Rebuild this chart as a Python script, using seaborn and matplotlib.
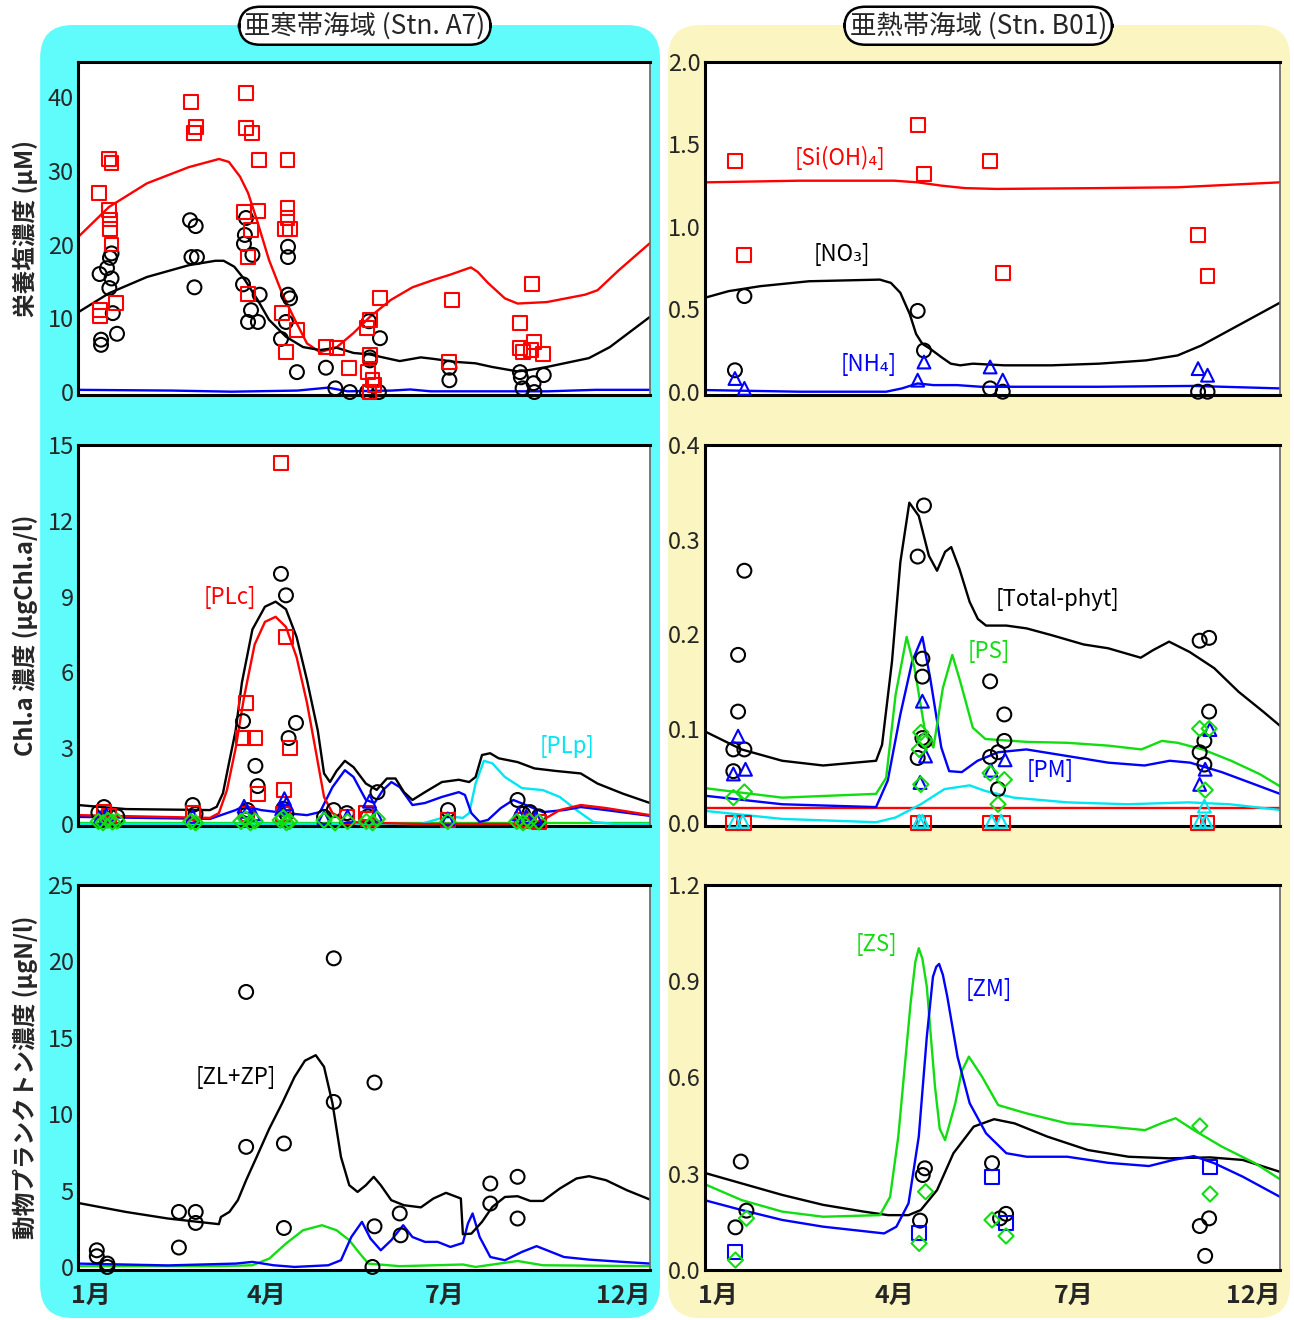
import matplotlib.pyplot as plt
import seaborn as sns
from matplotlib.patches import FancyBboxPatch

# x axis: day of year (0-365)
month_ticks = [8, 120, 234, 348]
month_labels = ['1月', '4月', '7月', '12月']

# ---------------- Stn. A7 : nutrients (uM) ----------------
a7_si_obs_day = [13.4, 19.5, 21.4, 19.5, 20.4, 20.4, 21.4, 14, 14, 24.1, 71.9, 75.1, 73.8,
                 107.2, 107.2, 111.3, 115.5, 133.7, 105.9, 114.6, 110.4, 108.5, 108.5, 133.7,
                 133.7, 132.1, 135.3, 130.2, 139.5, 132.7, 158.2, 165.1, 172.9, 192.7, 186.3,
                 184.4, 186.3, 185, 187.9, 189.2, 186, 238.6, 237, 289.7, 282, 282, 283.9,
                 290.7, 296.7, 289]
a7_si_obs_val = [27.0, 31.6, 31.0, 24.7, 23.4, 22.1, 20.0, 11.1, 10.3, 12.1, 39.3, 35.9, 35.1,
                 40.5, 35.8, 35.1, 31.5, 31.5, 24.4, 24.5, 22.0, 18.3, 13.3, 24.9,
                 23.6, 22.1, 22.1, 10.7, 8.4, 5.4, 6.1, 6.0, 3.3, 12.8, 9.8,
                 8.7, 5.0, 2.7, 1.6, 0.9, 0.0, 12.5, 4.1, 14.6, 9.4, 6.0, 5.4,
                 6.8, 5.2, 5.7]
a7_no3_obs_day = [13.8, 21.4, 20.4, 18.5, 21.4, 20, 22.2, 14.7, 14.7, 24.9, 71.5, 75.1, 72.4,
                  75.9, 74.3, 107.2, 106.5, 105.9, 111.3, 105.3, 115.9, 110.4, 108.5, 114.8,
                  134, 134, 134, 135.3, 132.7, 129.5, 139.7, 158.2, 164.2, 173.5, 185.7, 192.7,
                  186.3, 186.3, 184.4, 192, 237, 237, 282, 282.6, 283.7, 290.7, 291.2, 297.2]
a7_no3_obs_val = [16.0, 18.8, 18.2, 16.8, 15.4, 14.1, 10.7, 7.1, 6.4, 7.9, 23.3, 22.5, 18.3,
                  18.3, 14.2, 23.6, 21.3, 20.1, 18.6, 14.6, 13.2, 11.1, 9.5, 9.5,
                  19.7, 18.3, 13.2, 12.7, 9.5, 7.2, 2.7, 3.3, 0.5, 0.0, 9.6, 7.3,
                  4.7, 4.3, 0.0, 0.0, 3.3, 1.6, 2.7, 2.0, 0.5, 1.2, 0.0, 2.3]
a7_si_day = [0, 19.8, 44, 70.8, 90, 96.3, 103.4, 108.5, 114.2, 121.9, 130.2, 138.4, 146.1,
             154.4, 165.2, 175.8, 186.3, 199.7, 213.4, 226.8, 237.3, 250.7, 255, 261.6,
             272.4, 280.5, 299.2, 323.5, 331.5, 345, 365]
a7_si_val = [21.0, 25.1, 28.3, 30.5, 31.6, 31.2, 29.2, 27.0, 23.3, 17.9, 13.4, 9.8, 6.6,
             5.4, 6.1, 8.0, 10.2, 12.5, 14.2, 15.2, 15.9, 16.9, 16.3, 14.8,
             12.7, 12.0, 12.2, 13.2, 13.8, 16.5, 20.2]
a7_no3_day = [0, 19.8, 44, 70.8, 87.7, 92.9, 99.7, 106.5, 114.6, 121.9, 132.7, 143.6, 154.4,
              165.2, 175.8, 186.3, 194.6, 205.3, 218.7, 226.8, 240.2, 253.6, 264.3, 280.5,
              288.4, 299.2, 326, 339.4, 365]
a7_no3_val = [10.8, 13.4, 15.6, 17.2, 17.8, 17.8, 17.0, 15.2, 12.5, 9.8, 7.5, 6.1, 5.7,
              6.0, 5.3, 5.1, 4.7, 4.2, 4.7, 4.5, 4.1, 3.9, 3.4, 2.8,
              3.0, 3.4, 4.6, 6.1, 10.2]
a7_nh4_day = [0, 60, 98, 140, 159.6, 172, 200, 212, 225, 300, 330, 365]
a7_nh4_val = [0.3, 0.2, 0.05, 0.2, 0.6, 0.1, 0.2, 0.35, 0.1, 0.1, 0.3, 0.3]

# ---------------- Stn. B01 : nutrients (uM) ----------------
b01_obs_day = [19, 25, 135, 139, 181, 189, 313, 319]
b01_si_obs = [1.40, 0.83, 1.62, 1.32, 1.40, 0.72, 0.95, 0.70]
b01_no3_obs = [0.13, 0.58, 0.49, 0.25, 0.02, 0.0, 0.0, 0.0]
b01_nh4_obs = [0.08, 0.02, 0.07, 0.18, 0.15, 0.07, 0.14, 0.10]
b01_si_day = [0, 60, 120, 135, 150, 165, 185, 250, 300, 365]
b01_si_val = [1.27, 1.28, 1.28, 1.27, 1.25, 1.235, 1.23, 1.235, 1.24, 1.27]
b01_no3_day = [0, 15, 35, 66, 111, 118, 124, 130, 134, 138, 143, 150, 156, 162, 170, 190,
               220, 250, 280, 300, 315, 340, 365]
b01_no3_val = [0.57, 0.61, 0.64, 0.67, 0.68, 0.66, 0.60, 0.47, 0.35, 0.29, 0.26, 0.21, 0.17,
               0.16, 0.17, 0.16, 0.16, 0.17, 0.19, 0.22, 0.28, 0.41, 0.54]
b01_nh4_day = [0, 60, 115, 125, 135, 145, 160, 175, 250, 310, 365]
b01_nh4_val = [0.01, 0.0, 0.0, 0.02, 0.05, 0.04, 0.04, 0.03, 0.03, 0.035, 0.02]

# ---------------- Stn. A7 : Chl.a (ug/l) ----------------
a7_chl_obs_day = [16.6, 13, 20, 25, 73.2, 75, 105.3, 113.2, 114.6, 108.1, 107, 129.5, 132.7,
                  139.1, 134.4, 131, 133, 157, 163.2, 171.6, 191.1, 185, 236.1, 280.5, 288.4,
                  284, 294]
a7_chl_obs_val = [0.67, 0.45, 0.35, 0.3, 0.75, 0.4, 4.07, 2.3, 1.5, 0.55, 0.35, 9.9, 9.05,
                  4.0, 3.4, 0.6, 0.4, 0.28, 0.55, 0.43, 1.26, 0.3, 0.55, 0.95, 0.47,
                  0.4, 0.3]
a7_plc_obs_day = [129.5, 132.7, 107.2, 105.3, 113.2, 135, 114.6, 131.7, 16.6, 20, 73.2, 183.7,
                  171.6, 185, 236.1, 283.3, 294, 288, 108, 131]
a7_plc_obs_val = [14.3, 7.4, 4.8, 3.4, 3.4, 3.0, 1.2, 1.35, 0.47, 0.3, 0.43, 0.43,
                  0.28, 0.2, 0.16, 0.15, 0.08, 0.1, 0.4, 0.4]
a7_pm_obs_day = [14, 18, 73.2, 106, 108, 112, 131.7, 130, 133, 157, 172, 186, 190, 236, 281,
                 286, 292]
a7_pm_obs_val = [0.25, 0.35, 0.3, 0.7, 0.5, 0.4, 1.0, 0.6, 0.8, 0.25, 0.3, 0.9, 0.35, 0.2, 0.4,
                 0.3, 0.25]
a7_ps_obs_day = [13, 16, 19, 22, 25, 72, 75, 104, 107, 110, 113, 129, 131, 133, 135, 157, 164,
                 172, 184, 188, 191, 236, 280, 284, 288, 294]
a7_ps_obs_val = [0.1, 0.05, 0.15, 0.08, 0.12, 0.1, 0.05, 0.1, 0.2, 0.05, 0.12, 0.15, 0.25,
                 0.05, 0.1, 0.15, 0.05, 0.1, 0.1, 0.05, 0.2, 0.1, 0.1, 0.05, 0.12, 0.08]
a7_tot_day = [0, 30.6, 84.2, 88.5, 92.5, 96.3, 100.6, 104.6, 111.3, 119.3, 126.1, 132.7, 139.5,
              146.1, 153, 157, 160.8, 165, 170.3, 175.8, 183.7, 190.6, 197.1, 202.6, 208,
              213.4, 221.4, 232.2, 243, 249.6, 253.7, 257.8, 263, 268.4, 280.5, 291.2, 304.7,
              320.8, 331.5, 347.7, 365]
a7_tot_val = [0.75, 0.59, 0.55, 0.68, 1.22, 2.4, 3.7, 5.6, 7.7, 8.6, 8.8, 8.5, 7.4,
              5.7, 3.7, 2.0, 1.66, 2.1, 2.5, 2.25, 1.6, 1.35, 1.8, 1.8, 1.26,
              0.95, 1.26, 1.66, 1.75, 1.66, 1.86, 2.73, 2.8, 2.6, 2.45, 2.2, 2.1,
              2.0, 1.6, 1.2, 0.83]
a7_plc_day = [0, 84.2, 89.9, 95, 100.6, 105.9, 112.7, 119.3, 126.1, 132.7, 139.5, 146.1, 151.7,
              157, 162.4, 173.1, 191.9, 218.8, 288.4, 296.7, 307.4, 320.8, 336.9, 365]
a7_plc_val = [0.35, 0.24, 0.43, 1.33, 3.0, 5.0, 7.1, 8.0, 8.2, 7.8, 6.6, 4.8, 2.9,
              1.07, 0.43, 0.08, 0.04, 0.0, 0.0, 0.16, 0.55, 0.75, 0.63, 0.35]
a7_pm_day = [0, 84.2, 100.6, 105.9, 116.8, 132.7, 146.1, 154.4, 162.4, 170.3, 175.8, 183.7,
             189.2, 194.6, 200, 205.3, 213.4, 221.4, 232.2, 243, 246.9, 251, 256.3, 261.6,
             269.8, 277.8, 285.8, 296.7, 310.1, 320.8, 336.9, 365]
a7_pm_val = [0.28, 0.2, 0.55, 0.71, 0.55, 0.43, 0.35, 0.47, 1.46, 2.13, 1.86, 0.95,
             0.83, 1.34, 1.66, 1.46, 0.75, 0.83, 1.07, 1.26, 1.15, 0.43, 0.08, 0.16,
             0.63, 0.95, 0.75, 0.47, 0.55, 0.67, 0.55, 0.32]
a7_plp_day = [0, 218.8, 232.2, 240.2, 245.6, 249.6, 253.7, 259, 264.4, 272.4, 283.3, 296.7,
              307.4, 318.1, 328.8, 342.3, 365]
a7_plp_val = [0.0, 0.0, 0.24, 0.28, 0.24, 0.43, 1.6, 2.5, 2.4, 1.86, 1.42, 1.34,
              1.07, 0.55, 0.08, 0.0, 0.0]
a7_ps_day = [0, 365]
a7_ps_val = [0.03, 0.03]

# ---------------- Stn. B01 : Chl.a (ug/l) ----------------
b01_chl_obs_day = [25, 21, 21, 18, 25, 18, 139, 135, 138, 138, 138, 139.5, 135, 181, 190, 190,
                   181, 186, 186, 314, 320, 320, 317, 314, 317]
b01_chl_obs_val = [0.267, 0.178, 0.118, 0.078, 0.078, 0.055, 0.336, 0.282, 0.174, 0.155, 0.09,
                   0.087, 0.069, 0.15, 0.115, 0.087, 0.07, 0.075, 0.036, 0.193, 0.196, 0.118,
                   0.087, 0.075, 0.062]
b01_pm_obs_day = [21, 18, 25.7, 138, 140, 136.5, 181.5, 190.5, 314, 317.5, 320.5]
b01_pm_obs_val = [0.092, 0.052, 0.057, 0.129, 0.071, 0.043, 0.056, 0.067, 0.041, 0.057, 0.099]
b01_ps_obs_day = [18, 25, 137, 137, 139.5, 136, 181, 190, 186, 314, 320, 317.5]
b01_ps_obs_val = [0.027, 0.033, 0.041, 0.096, 0.088, 0.078, 0.053, 0.046, 0.02, 0.1, 0.1, 0.035]
b01_plc_obs_day = [18, 25, 135, 139, 181, 189, 313, 319]
b01_plc_obs_val = [0.0, 0.0, 0.0, 0.0, 0.0, 0.0, 0.0, 0.0]
b01_plp_obs_day = [19, 24, 136, 138, 182, 188, 314, 318, 317]
b01_plp_obs_val = [0.002, 0.002, 0.002, 0.002, 0.002, 0.002, 0.002, 0.002, 0.018]
b01_tot_day = [0, 23.2, 49, 75, 108.6, 112.4, 118.7, 124, 129.7, 135.7, 142.1, 147.3, 152.4,
               156.3, 161.5, 168, 173.2, 178.4, 191.3, 204.2, 219.7, 240.4, 255.9, 276.6,
               284.4, 294.6, 307.7, 323.2, 338.7, 354.3, 365]
b01_tot_val = [0.097, 0.078, 0.066, 0.061, 0.066, 0.083, 0.171, 0.276, 0.339, 0.325, 0.283,
               0.267, 0.287, 0.292, 0.269, 0.234, 0.216, 0.209, 0.209, 0.206, 0.199, 0.189,
               0.185, 0.175, 0.183, 0.192, 0.181, 0.164, 0.139, 0.118, 0.103]
b01_ps_day = [0, 49, 108.6, 115, 121, 128, 133, 140, 145, 151, 157, 162, 170, 178, 204, 230,
              256, 277, 290, 300, 316, 334, 352, 365]
b01_ps_val = [0.037, 0.027, 0.031, 0.048, 0.136, 0.197, 0.164, 0.094, 0.08, 0.143, 0.178,
              0.15, 0.101, 0.089, 0.086, 0.085, 0.082, 0.078, 0.087, 0.085, 0.078, 0.066,
              0.052, 0.039]
b01_pm_day = [0, 49, 108.6, 116, 124, 131.5, 138, 143, 150, 155, 163, 173, 186, 204, 230, 256,
              279, 295, 308, 328, 349, 365]
b01_pm_val = [0.029, 0.02, 0.017, 0.045, 0.115, 0.171, 0.197, 0.153, 0.08, 0.055, 0.054,
              0.066, 0.075, 0.078, 0.071, 0.064, 0.061, 0.066, 0.064, 0.054, 0.041, 0.031]
b01_plp_day = [0, 49, 108.6, 121, 137, 152, 168, 178, 196, 230, 268, 307, 333, 365]
b01_plp_val = [0.013, 0.0045, 0.001, 0.006, 0.02, 0.036, 0.04, 0.034, 0.027, 0.022, 0.02,
               0.022, 0.02, 0.014]
b01_plc_day = [0, 365]
b01_plc_val = [0.0157, 0.0157]

# ---------------- Stn. A7 : zooplankton (ugN/l) ----------------
a7_zoo_obs_day = [12, 12, 18.7, 18.7, 64.4, 64.4, 75.1, 75.1, 107.3, 107.3, 131.4, 131.4, 163.2,
                  163.2, 189.2, 189.2, 187.9, 205.3, 205.9, 263.1, 263.1, 280.5, 280.5]
a7_zoo_obs_val = [1.09, 0.7, 0.22, 0.0, 3.6, 1.27, 3.6, 2.88, 18.0, 7.86, 8.08, 2.55, 20.2,
                  10.8, 12.07, 2.66, 0.0, 3.5, 2.07, 5.46, 4.15, 5.9, 3.17]
a7_zl_day = [0, 30.6, 57.4, 89.9, 91.2, 96.6, 102, 107.3, 114, 122.1, 130.2, 138.2, 144.8,
             151.7, 157, 162.4, 167.8, 173.1, 178.4, 183.7, 188.7, 193.2, 199.9, 208, 218.8,
             226.8, 234.8, 244.3, 245.6, 251, 257.8, 264.4, 272.4, 280.5, 288.6, 296.7, 307.4,
             318.1, 326.1, 336.9, 350.3, 365]
a7_zl_val = [4.19, 3.6, 3.17, 2.8, 3.27, 3.6, 4.37, 5.68, 7.2, 9.06, 10.7, 12.44, 13.5,
             13.86, 13.1, 10.7, 7.2, 5.35, 4.91, 5.35, 5.9, 5.35, 4.37, 4.04, 3.9,
             4.48, 4.85, 4.48, 2.14, 2.18, 2.95, 3.93, 4.58, 4.63, 4.32, 4.32, 5.13,
             5.79, 5.94, 5.68, 5.02, 4.41]
a7_zblue_day = [0, 57.4, 100.6, 111.3, 124.8, 138.2, 159.7, 167.8, 174.4, 181.2, 186.6, 193.2,
                199.9, 207.5, 213.4, 221.4, 229.5, 237.6, 245.6, 248.8, 251.8, 256.3, 263.1,
                272.4, 283.2, 292.6, 299.3, 310.1, 326.1, 347.7, 365]
a7_zblue_val = [0.22, 0.1, 0.22, 0.33, 0.11, 0.0, 0.11, 0.44, 1.96, 2.95, 1.86, 1.09,
                1.75, 2.73, 1.96, 1.64, 1.64, 1.31, 1.57, 2.84, 3.5, 1.96, 0.65,
                0.44, 0.98, 1.36, 1.09, 0.65, 0.48, 0.33, 0.22]
a7_zgreen_day = [0, 90, 111.3, 122.1, 132.7, 143.6, 155.7, 165, 173.1, 179.8, 185.3, 205.3,
                 245.6, 253.7, 280.5, 296.7, 365]
a7_zgreen_val = [0.05, 0.05, 0.11, 0.55, 1.53, 2.4, 2.73, 2.4, 1.75, 0.88, 0.22, 0.05, 0.16,
                 0.0, 0.39, 0.11, 0.05]

# ---------------- Stn. B01 : zooplankton (ugN/l) ----------------
b01_zoo_obs_day = [22.7, 19.3, 26.3, 136.5, 139.6, 138.2, 182.2, 187.3, 191.1, 314.1, 320, 317.5]
b01_zoo_obs_val = [0.338, 0.133, 0.185, 0.154, 0.317, 0.296, 0.333, 0.161, 0.175, 0.137, 0.161,
                   0.044]
b01_zm_obs_day = [19.3, 135.9, 182.2, 191.1, 320.6]
b01_zm_obs_val = [0.057, 0.114, 0.291, 0.147, 0.322]
b01_zs_obs_day = [19.3, 26.3, 135.9, 140, 182.2, 191.1, 314.1, 320.6]
b01_zs_obs_val = [0.031, 0.161, 0.083, 0.244, 0.156, 0.106, 0.449, 0.237]
b01_zt_day = [1, 23.2, 49, 75, 100.8, 116.2, 129.2, 137, 147.3, 157.7, 170.6, 183.5, 196.5,
              217.2, 243, 268.9, 294.6, 320.6, 341.3, 365]
b01_zt_val = [0.301, 0.27, 0.234, 0.203, 0.182, 0.171, 0.171, 0.187, 0.249, 0.364, 0.447,
              0.47, 0.457, 0.416, 0.374, 0.353, 0.348, 0.351, 0.343, 0.306]
b01_zs_day = [1, 23.2, 49, 75, 111, 117.5, 122.7, 126.6, 130.5, 133.5, 135.7, 138, 140.8, 143.5,
              146, 149, 152.4, 158.9, 163, 167.5, 175.8, 186.1, 204.2, 230, 256, 279.3, 289.6,
              298.7, 310.3, 328.3, 349.1, 365]
b01_zs_val = [0.265, 0.218, 0.182, 0.166, 0.171, 0.228, 0.416, 0.623, 0.831, 0.96, 1.003, 0.97,
              0.883, 0.72, 0.571, 0.44, 0.405, 0.52, 0.62, 0.665, 0.603, 0.514, 0.488, 0.457,
              0.447, 0.436, 0.457, 0.473, 0.436, 0.384, 0.333, 0.283]
b01_zm_day = [1, 23.2, 49, 75, 113.7, 121.5, 129.2, 135.7, 140.8, 144.7, 146.8, 148.6, 151,
              153.8, 160.3, 168, 178.4, 191.3, 204.2, 230, 256, 281.8, 297.3, 310.3, 323.2,
              341.3, 365]
b01_zm_val = [0.216, 0.187, 0.156, 0.135, 0.114, 0.135, 0.208, 0.416, 0.727, 0.914, 0.945,
              0.954, 0.92, 0.852, 0.665, 0.52, 0.426, 0.364, 0.353, 0.353, 0.334, 0.324, 0.343,
              0.355, 0.333, 0.291, 0.228]

RED = '#ff0000'
BLACK = '#000000'
BLUE = '#0000ff'
GREEN = '#11dd11'
CYAN = '#00e6f2'


def draw_line(ax, x, y, color):
    sns.lineplot(x=x, y=y, ax=ax, color=color, linewidth=1.7, estimator=None, sort=False)


def draw_points(ax, x, y, color, marker, size=100):
    sns.scatterplot(x=x, y=y, ax=ax, marker=marker, s=size, color=color,
                    facecolor='none', edgecolor=color, linewidth=1.5, zorder=4, clip_on=False)


def style_axis(ax, ylim, yticks, ylabels, bottom_row=False):
    ax.set_xlim(0, 365)
    ax.set_ylim(*ylim)
    ax.set_yticks(yticks)
    ax.set_yticklabels(ylabels, fontsize=17)
    ax.tick_params(axis='y', direction='in', length=3, width=1, color='#888888', pad=3)
    if bottom_row:
        ax.set_xticks(month_ticks)
        ax.set_xticklabels(month_labels, fontsize=18, fontweight='bold')
        ax.tick_params(axis='x', length=0, pad=10)
    else:
        ax.set_xticks([])
    ax.set_xlabel('')
    ax.set_ylabel('')
    for side in ['top', 'left', 'bottom']:
        ax.spines[side].set_color('black')
        ax.spines[side].set_linewidth(2.2)
    ax.spines['right'].set_color('#666666')
    ax.spines['right'].set_linewidth(1.2)
    ax.set_facecolor('white')


sns.set_style('white')
plt.rcParams['font.family'] = ['Noto Sans CJK JP', 'DejaVu Sans']

fig = plt.figure(figsize=(12.94, 13.2), dpi=100)

# panel backgrounds
fig.add_artist(FancyBboxPatch((0.031, 0.0015), 0.479, 0.9795,
                              boxstyle='round,pad=0,rounding_size=0.025',
                              transform=fig.transFigure, fc='#60fbfb', ec='none', zorder=-2))
fig.add_artist(FancyBboxPatch((0.5162, 0.0015), 0.4807, 0.9795,
                              boxstyle='round,pad=0,rounding_size=0.025',
                              transform=fig.transFigure, fc='#fbf5c2', ec='none', zorder=-2))

title_box = dict(boxstyle='round,pad=0.2,rounding_size=0.8', fc='white', ec='black', lw=1.8)
fig.text(0.282, 0.9805, '亜寒帯海域 (Stn. A7)', fontsize=19, ha='center', va='center',
         bbox=title_box, zorder=5)
fig.text(0.756, 0.9805, '亜熱帯海域 (Stn. B01)', fontsize=19, ha='center', va='center',
         bbox=title_box, zorder=5)

W = 1294.0
H = 1320.0


def make_axes(x0, x1, y0, y1):
    return fig.add_axes([x0 / W, 1 - y1 / H, (x1 - x0) / W, (y1 - y0) / H])


ax_tl = make_axes(78, 650, 62, 395)
ax_tr = make_axes(705, 1280, 62, 395)
ax_ml = make_axes(78, 650, 445, 826)
ax_mr = make_axes(705, 1280, 445, 826)
ax_bl = make_axes(78, 650, 885, 1270)
ax_br = make_axes(705, 1280, 885, 1270)

# --- top left: nutrients A7
draw_line(ax_tl, a7_si_day, a7_si_val, RED)
draw_line(ax_tl, a7_no3_day, a7_no3_val, BLACK)
draw_line(ax_tl, a7_nh4_day, a7_nh4_val, BLUE)
draw_points(ax_tl, a7_no3_obs_day, a7_no3_obs_val, BLACK, 'o')
draw_points(ax_tl, a7_si_obs_day, a7_si_obs_val, RED, 's')
style_axis(ax_tl, (-0.4, 44.75), [0, 10, 20, 30, 40], ['0', '10', '20', '30', '40'])

# --- top right: nutrients B01
draw_line(ax_tr, b01_si_day, b01_si_val, RED)
draw_line(ax_tr, b01_no3_day, b01_no3_val, BLACK)
draw_line(ax_tr, b01_nh4_day, b01_nh4_val, BLUE)
draw_points(ax_tr, b01_obs_day, b01_si_obs, RED, 's')
draw_points(ax_tr, b01_obs_day, b01_no3_obs, BLACK, 'o')
draw_points(ax_tr, b01_obs_day, b01_nh4_obs, BLUE, '^', 85)
style_axis(ax_tr, (-0.02, 1.99), [0, 0.5, 1.0, 1.5, 2.0], ['0.0', '0.5', '1.0', '1.5', '2.0'])
ax_tr.text(86, 1.42, '[Si(OH)₄]', color=RED, fontsize=16, ha='center', va='center')
ax_tr.text(87, 0.83, '[NO₃]', color=BLACK, fontsize=16, ha='center', va='center')
ax_tr.text(104, 0.165, '[NH₄]', color=BLUE, fontsize=16, ha='center', va='center')

# --- middle left: chl.a A7
draw_line(ax_ml, a7_ps_day, a7_ps_val, GREEN)
draw_line(ax_ml, a7_plp_day, a7_plp_val, CYAN)
draw_line(ax_ml, a7_pm_day, a7_pm_val, BLUE)
draw_line(ax_ml, a7_plc_day, a7_plc_val, RED)
draw_line(ax_ml, a7_tot_day, a7_tot_val, BLACK)
draw_points(ax_ml, a7_chl_obs_day, a7_chl_obs_val, BLACK, 'o')
draw_points(ax_ml, a7_plc_obs_day, a7_plc_obs_val, RED, 's')
draw_points(ax_ml, a7_pm_obs_day, a7_pm_obs_val, BLUE, '^', 85)
draw_points(ax_ml, a7_ps_obs_day, a7_ps_obs_val, GREEN, 'D', 60)
style_axis(ax_ml, (-0.08, 15), [0, 3, 6, 9, 12, 15], ['0', '3', '6', '9', '12', '15'])
ax_ml.text(97, 8.95, '[PLc]', color=RED, fontsize=16, ha='center', va='center')
ax_ml.text(312, 3.05, '[PLp]', color=CYAN, fontsize=16, ha='center', va='center')

# --- middle right: chl.a B01
draw_line(ax_mr, b01_plc_day, b01_plc_val, RED)
draw_line(ax_mr, b01_plp_day, b01_plp_val, CYAN)
draw_line(ax_mr, b01_pm_day, b01_pm_val, BLUE)
draw_line(ax_mr, b01_ps_day, b01_ps_val, GREEN)
draw_line(ax_mr, b01_tot_day, b01_tot_val, BLACK)
draw_points(ax_mr, b01_plc_obs_day, b01_plc_obs_val, RED, 's')
draw_points(ax_mr, b01_plp_obs_day, b01_plp_obs_val, CYAN, '^', 85)
draw_points(ax_mr, b01_chl_obs_day, b01_chl_obs_val, BLACK, 'o')
draw_points(ax_mr, b01_pm_obs_day, b01_pm_obs_val, BLUE, '^', 85)
draw_points(ax_mr, b01_ps_obs_day, b01_ps_obs_val, GREEN, 'D', 60)
style_axis(ax_mr, (-0.003, 0.4), [0, 0.1, 0.2, 0.3, 0.4], ['0.0', '0.1', '0.2', '0.3', '0.4'])
ax_mr.text(224, 0.237, '[Total-phyt]', color=BLACK, fontsize=16, ha='center', va='center')
ax_mr.text(180, 0.182, '[PS]', color=GREEN, fontsize=16, ha='center', va='center')
ax_mr.text(219, 0.056, '[PM]', color=BLUE, fontsize=16, ha='center', va='center')

# --- bottom left: zooplankton A7
draw_line(ax_bl, a7_zgreen_day, a7_zgreen_val, GREEN)
draw_line(ax_bl, a7_zblue_day, a7_zblue_val, BLUE)
draw_line(ax_bl, a7_zl_day, a7_zl_val, BLACK)
draw_points(ax_bl, a7_zoo_obs_day, a7_zoo_obs_val, BLACK, 'o')
style_axis(ax_bl, (-0.2, 25), [0, 5, 10, 15, 20, 25], ['0', '5', '10', '15', '20', '25'],
           bottom_row=True)
ax_bl.text(101, 12.4, '[ZL+ZP]', color=BLACK, fontsize=16, ha='center', va='center')

# --- bottom right: zooplankton B01
draw_line(ax_br, b01_zt_day, b01_zt_val, BLACK)
draw_line(ax_br, b01_zs_day, b01_zs_val, GREEN)
draw_line(ax_br, b01_zm_day, b01_zm_val, BLUE)
draw_points(ax_br, b01_zoo_obs_day, b01_zoo_obs_val, BLACK, 'o')
draw_points(ax_br, b01_zm_obs_day, b01_zm_obs_val, BLUE, 's')
draw_points(ax_br, b01_zs_obs_day, b01_zs_obs_val, GREEN, 'D', 60)
style_axis(ax_br, (0, 1.2), [0, 0.3, 0.6, 0.9, 1.2], ['0.0', '0.3', '0.6', '0.9', '1.2'],
           bottom_row=True)
ax_br.text(108.6, 1.016, '[ZS]', color=GREEN, fontsize=16, ha='center', va='center')
ax_br.text(180.3, 0.873, '[ZM]', color=BLUE, fontsize=16, ha='center', va='center')

# y labels of the left column
for ax, label in [(ax_tl, '栄養塩濃度 (μM)'),
                  (ax_ml, 'Chl.a 濃度 (μgChl.a/l)'),
                  (ax_bl, '動物プランクトン濃度 (μgN/l)')]:
    ax.set_ylabel(label, fontsize=17, fontweight='bold')
    ax.yaxis.set_label_coords(-0.07, 0.5)

fig.savefig('out.png', dpi=100)
